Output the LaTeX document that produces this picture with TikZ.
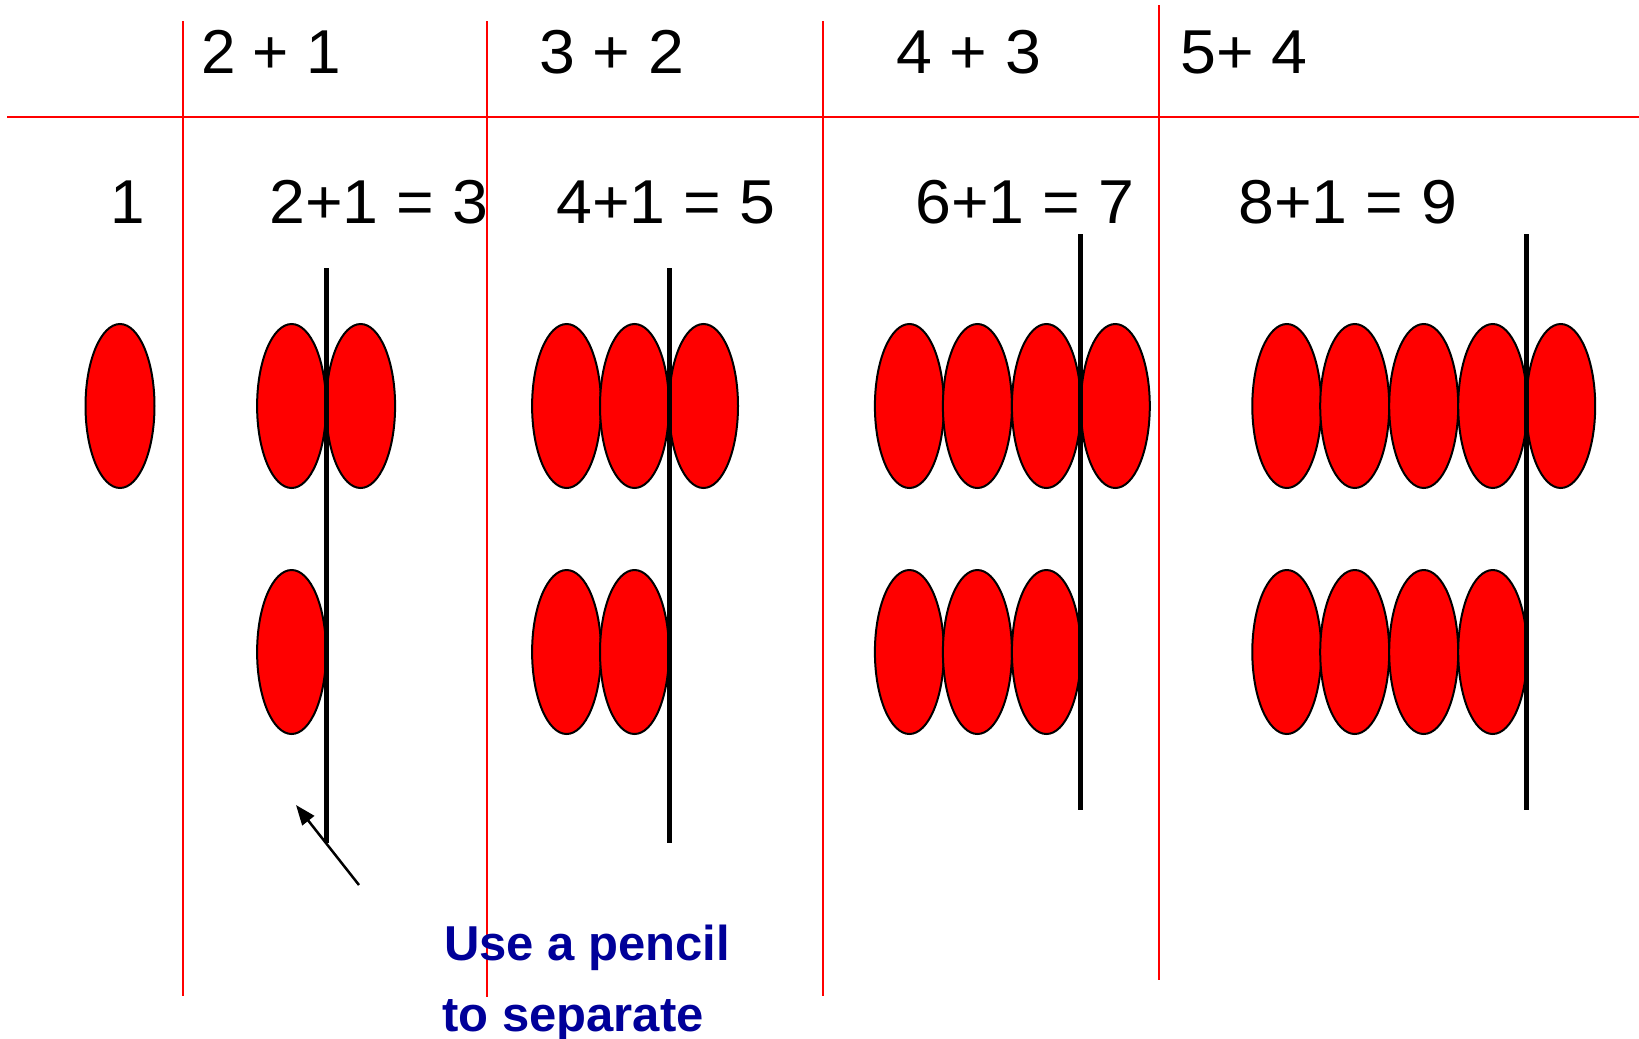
\documentclass[tikz,border=0pt]{standalone}
\usepackage{fontspec}
\setmainfont{Liberation Sans}
\usetikzlibrary{shapes.geometric,arrows.meta}
\definecolor{navyblue}{RGB}{0,0,153}
\tikzset{
  gridline/.style={draw=red, line width=2pt},
  bead/.style={ellipse, draw=black, fill=red, line width=2pt, minimum width=69pt, minimum height=164pt, inner sep=0pt},
  divider/.style={draw=black, line width=5pt},
  numtext/.style={anchor=base west, inner sep=0pt, font=\fontsize{62}{70}\selectfont},
  sumtext/.style={numtext, xscale=1.04},
  notetext/.style={anchor=base west, inner sep=0pt, text=navyblue, font=\fontsize{49}{56}\selectfont\bfseries},
}
\begin{document}
\begin{tikzpicture}[x=1pt,y=-1pt]
\useasboundingbox (0,0) rectangle (1639,1039);
% grid
\draw[gridline] (7,117) -- (1639,117);
\draw[gridline] (183,21) -- (183,996);
\draw[gridline] (487,21) -- (487,997);
\draw[gridline] (823,21) -- (823,996);
\draw[gridline] (1159,5) -- (1159,980);
% header texts
\node[numtext] (h1) at (201,73) {2 + 1};
\node[sumtext] (h2) at (539,73) {3 + 2};
\node[sumtext] (h3) at (896,73) {4 + 3};
\node[sumtext] (h4) at (1180,73) {5+ 4};
% second row texts
\node[numtext] (r0) at (110,223) {1};
\node[sumtext] (r1) at (269,223) {2+1 = 3};
\node[sumtext] (r2) at (556,223) {4+1 = 5};
\node[sumtext] (r3) at (915,223) {6+1 = 7};
\node[sumtext] (r4) at (1238,223) {8+1 = 9};
% beads
\node[bead] (a1) at (120,406) {};
\node[bead] (b1) at (291.6,406) {};
\node[bead] (b2) at (360.6,406) {};
\node[bead] (b3) at (291.6,652) {};
\node[bead] (c1) at (566.6,406) {};
\node[bead] (c2) at (634.5,406) {};
\node[bead] (c3) at (703.5,406) {};
\node[bead] (c4) at (566.6,652) {};
\node[bead] (c5) at (634.5,652) {};
\node[bead] (d1) at (909.4,406) {};
\node[bead] (d2) at (977.4,406) {};
\node[bead] (d3) at (1046.4,406) {};
\node[bead] (d4) at (1115.3,406) {};
\node[bead] (d5) at (909.4,652) {};
\node[bead] (d6) at (977.4,652) {};
\node[bead] (d7) at (1046.4,652) {};
\node[bead] (e1) at (1286.8,406) {};
\node[bead] (e2) at (1354.7,406) {};
\node[bead] (e3) at (1423.7,406) {};
\node[bead] (e4) at (1492.7,406) {};
\node[bead] (e5) at (1560.7,406) {};
\node[bead] (e6) at (1286.8,652) {};
\node[bead] (e7) at (1354.7,652) {};
\node[bead] (e8) at (1423.7,652) {};
\node[bead] (e9) at (1492.7,652) {};
% dividers
\draw[divider] (326,268) -- (326,843);
\draw[divider] (669,268) -- (669,843);
\draw[divider] (1080,234) -- (1080,810);
\draw[divider] (1526,234) -- (1526,810);
% arrow
\coordinate (tail) at (359,885);
\coordinate (tip) at (296,805);
\draw[line width=2.5pt, -{Triangle[length=20pt,width=15pt]}] (tail) -- (tip);
% note
\node[notetext] (n1) at (444,960) {Use a pencil};
\node[notetext] (n2) at (442,1031) {to separate};
\end{tikzpicture}
\end{document}
